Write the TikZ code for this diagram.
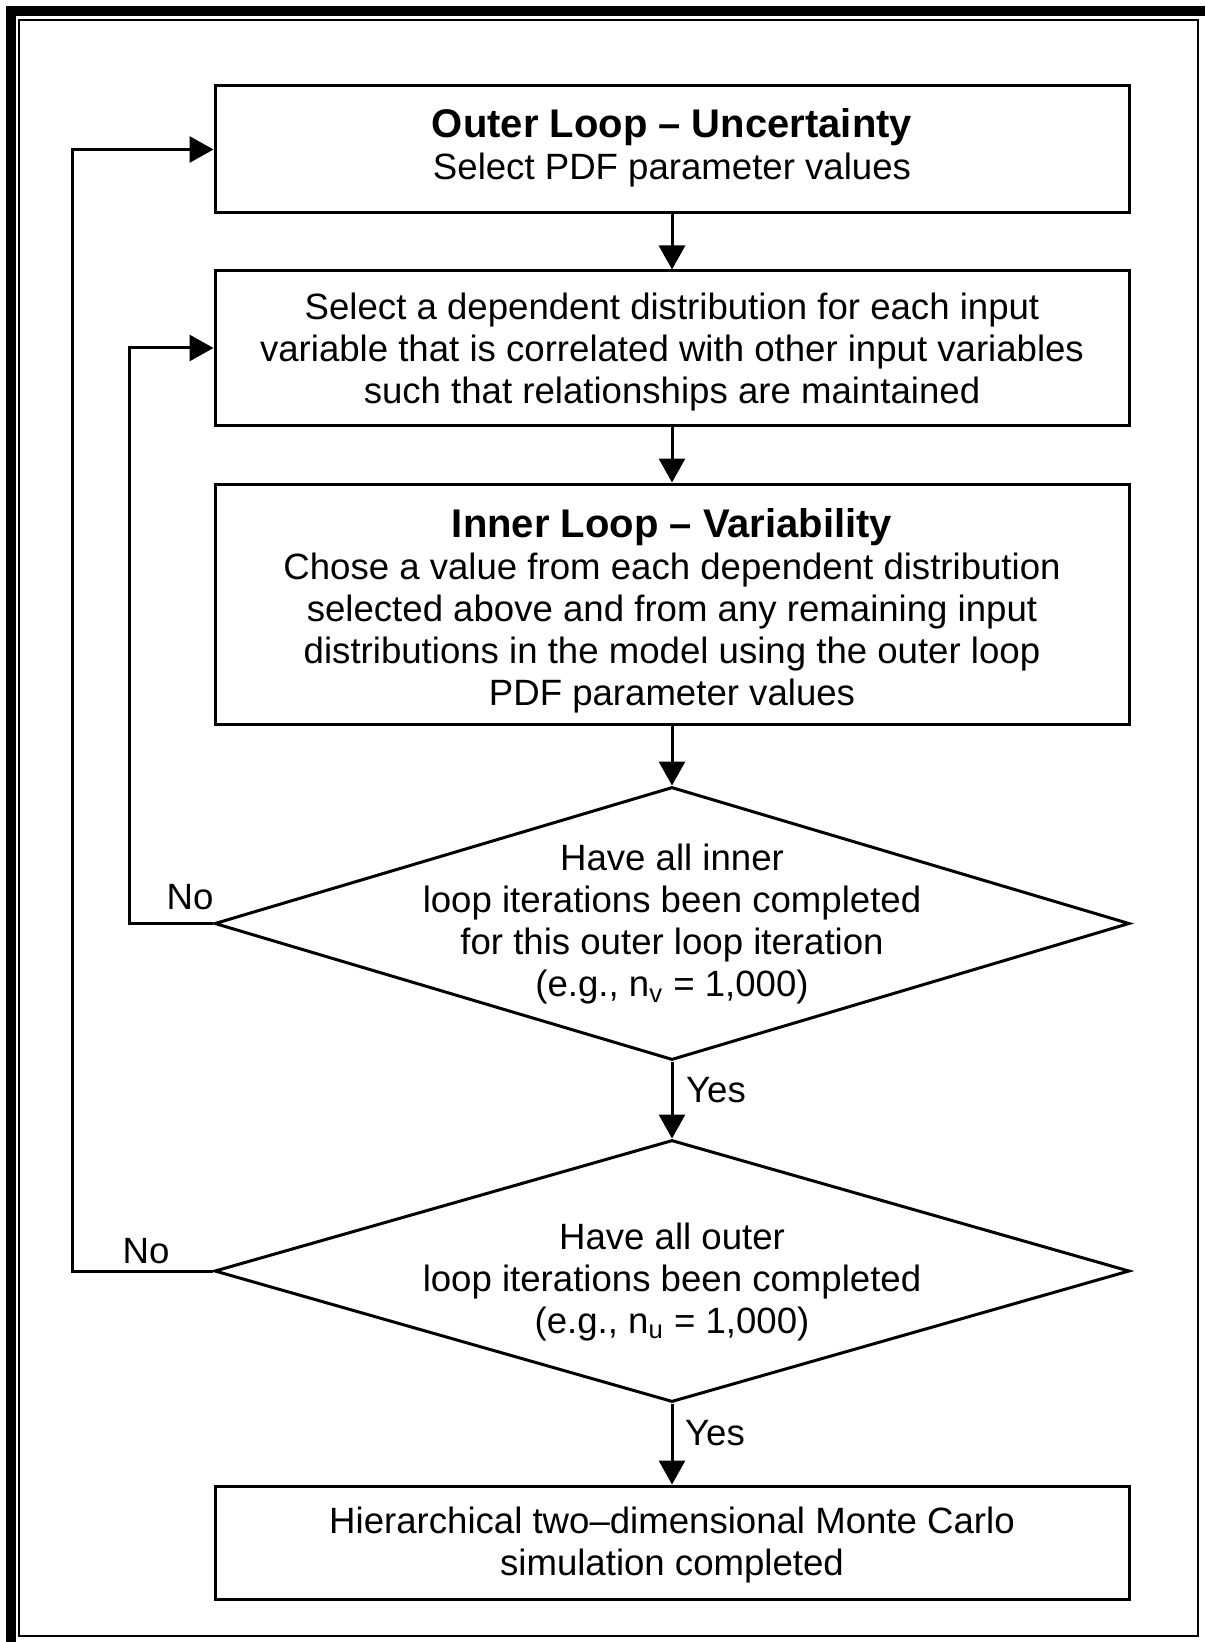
\documentclass[tikz,border=0pt]{standalone}
\usepackage{fontspec}
\setmainfont{Liberation Sans}
\usetikzlibrary{shapes.geometric,arrows.meta}
\begin{document}
\begin{tikzpicture}[x=0.5pt,y=-0.5pt,
  txt/.style={font=\fontsize{18.3}{21}\selectfont, align=center, inner sep=0pt},
  procbox/.style={draw, line width=1.5pt, minimum width=457pt, inner sep=0pt},
  decision/.style={draw, diamond, line width=1.5pt, minimum width=457.5pt, inner sep=0pt},
  flow/.style={line width=1.5pt, -{Triangle[length=12pt,width=13pt]}},
  head/.style={font=\fontsize{20}{21}\selectfont\bfseries}
]
\useasboundingbox (0,0) rectangle (1205,1642);

% page frame: heavy rule on top and left, thin rule inside
\draw[line width=1pt] (19,20) rectangle (1198,1636);
\draw[line width=5pt] (11,1642) -- (11,11.5) -- (1205,11.5);

% process boxes
\node[procbox, minimum height=63.5pt] (box1) at (672,149.5) {};
\node[txt] (box1text) at (672,148)
  {{\fontsize{20}{21}\selectfont\bfseries Outer Loop – Uncertainty}\\Select PDF parameter values};
\node[procbox, minimum height=77pt] (box2) at (672,348) {};
\node[txt] (box2text) at (672,352)
  {Select a dependent distribution for each input\\variable that is correlated with other input variables\\such that relationships are maintained};
\node[procbox, minimum height=120pt] (box3) at (672,604) {};
\node[txt] (box3text) at (672,611)
  {{\fontsize{20}{21}\selectfont\bfseries Inner Loop – Variability}\\Chose a value from each dependent distribution\\selected above and from any remaining input\\distributions in the model using the outer loop\\PDF parameter values};

% decisions
\node[decision, minimum height=136.5pt] (d1) at (672,923.5) {};
\node[txt] (d1text) at (672,924.5)
  {Have all inner\\loop iterations been completed\\for this outer loop iteration\\(e.g., n\textsubscript{v} = 1,000)};
\node[decision, minimum height=131pt] (d2) at (672,1271) {};
\node[txt] (d2text) at (672,1282)
  {Have all outer\\loop iterations been completed\\(e.g., n\textsubscript{u} = 1,000)};

% final box
\node[procbox, minimum height=56.5pt] (box4) at (672,1542.5) {};
\node[txt] (box4text) at (672,1545.5)
  {Hierarchical two–dimensional Monte Carlo\\simulation completed};

% main flow
\draw[flow] (box1) -- (box2);
\draw[flow] (box2) -- (box3);
\draw[flow] (box3) -- (d1);
\draw[flow] (d1) -- (d2);
\draw[flow] (d2) -- (box4);

% loop-back connectors
\draw[flow] (d1.west) -- ++(-84,0) |- (box2.west);
\draw[flow] (d2.west) -- ++(-141,0) |- (box1.west);

% branch labels
\node[txt] (no1) at (190,897) {No};
\node[txt] (no2) at (146,1251) {No};
\node[txt] (yes1) at (716,1090) {Yes};
\node[txt] (yes2) at (715,1433) {Yes};
\end{tikzpicture}
\end{document}
